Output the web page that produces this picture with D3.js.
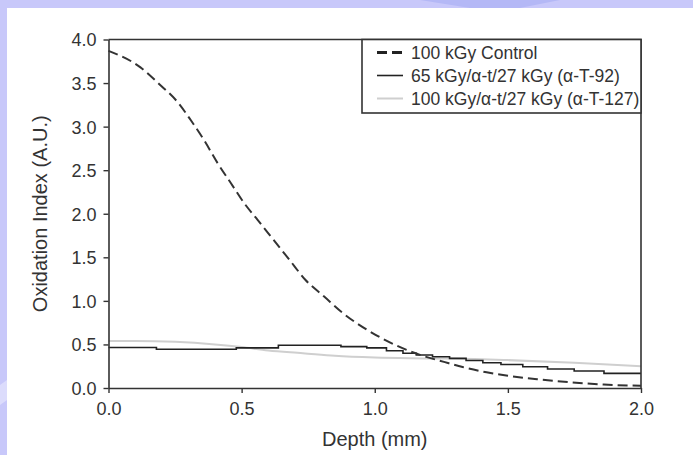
<!DOCTYPE html>
<html>
<head>
<meta charset="utf-8">
<script src="https://cdn.jsdelivr.net/npm/d3@7"></script>
<style>
  html, body { margin: 0; padding: 0; background: #c8c8fa; }
  svg { display: block; }
  text { font-family: "Liberation Sans", Arial, sans-serif; fill: #333; }
</style>
</head>
<body>
<svg id="chart" width="693" height="455"></svg>
<script>
// Oxidation index vs depth
const controlDepth = [0, 0.12, 0.19, 0.26, 0.31, 0.36, 0.41, 0.46, 0.51, 0.56, 0.62, 0.68, 0.74, 0.81, 0.88, 0.97, 1.08, 1.17, 1.26, 1.33, 1.42, 1.5, 1.61, 1.74, 1.86, 2.0];
const controlOI = [3.87, 3.68, 3.49, 3.28, 3.07, 2.84, 2.58, 2.35, 2.12, 1.93, 1.70, 1.47, 1.24, 1.05, 0.86, 0.67, 0.49, 0.38, 0.30, 0.24, 0.18, 0.14, 0.1, 0.065, 0.04, 0.025];

const t92Depth = [0, 0.18, 0.48, 0.638, 0.873, 0.97, 1.044, 1.106, 1.156, 1.217, 1.281, 1.343, 1.406, 1.474, 1.556, 1.649, 1.749, 1.861, 2.0];
const t92OI = [0.465, 0.445, 0.46, 0.49, 0.475, 0.46, 0.428, 0.398, 0.378, 0.359, 0.34, 0.315, 0.29, 0.27, 0.244, 0.218, 0.195, 0.168, 0.168];

const t127Depth = [0, 0.1, 0.25, 0.4, 0.5, 0.6, 0.73, 0.85, 1.0, 1.2, 1.4, 1.5, 1.75, 2.0];
const t127OI = [0.54, 0.54, 0.53, 0.5, 0.47, 0.43, 0.4, 0.37, 0.35, 0.34, 0.33, 0.32, 0.29, 0.25];

const xTicks = [0, 0.5, 1.0, 1.5, 2.0];
const yTicks = [0, 0.5, 1.0, 1.5, 2.0, 2.5, 3.0, 3.5, 4.0];

const legendLabels = ["100 kGy Control", "65 kGy/\u03b1-t/27 kGy (\u03b1-T-92)", "100 kGy/\u03b1-t/27 kGy (\u03b1-T-127)"];

const svg = d3.select("#chart");

// slide background streaks + white panel
svg.append("polygon").attr("points", "420,0 560,0 520,8 470,8").attr("fill", "#b4b8f6");
svg.append("polygon").attr("points", "0,385 7,380 7,400 0,405").attr("fill", "#dcdcfc");
svg.append("rect").attr("x", 7).attr("y", 8).attr("width", 686).attr("height", 447).attr("fill", "#fff");

const x = d3.scaleLinear().domain([0, 2]).range([108.5, 641]);
const y = d3.scaleLinear().domain([0, 4]).range([388, 39.5]);

// series
const ctrl = controlDepth.map((d, i) => [d, controlOI[i]]);
const t92 = t92Depth.map((d, i) => [d, t92OI[i]]);
const t127 = t127Depth.map((d, i) => [d, t127OI[i]]);

const smooth = d3.line().x(d => x(d[0])).y(d => y(d[1])).curve(d3.curveMonotoneX);
const step = d3.line().x(d => x(d[0])).y(d => y(d[1])).curve(d3.curveStepAfter);

svg.append("path").attr("d", smooth(t127))
    .attr("fill", "none").attr("stroke", "#cfcfcf").attr("stroke-width", 2);
svg.append("path").attr("d", step(t92))
    .attr("fill", "none").attr("stroke", "#222").attr("stroke-width", 1.6);
svg.append("path").attr("d", smooth(ctrl))
    .attr("fill", "none").attr("stroke", "#333").attr("stroke-width", 2)
    .attr("stroke-dasharray", "10,5");

// axes
const xAxis = svg.append("g").attr("transform", `translate(0,${y(0)})`)
    .call(d3.axisBottom(x).tickValues(xTicks).tickFormat(d3.format(".1f")).tickSize(5).tickSizeOuter(0));
const yAxis = svg.append("g").attr("transform", `translate(${x(0)},0)`)
    .call(d3.axisLeft(y).tickValues(yTicks).tickFormat(d3.format(".1f")).tickSize(5).tickSizeOuter(0));

[xAxis, yAxis].forEach(a => {
    a.select(".domain").attr("stroke", "#333").attr("stroke-width", 1.6);
    a.selectAll(".tick line").attr("stroke", "#333").attr("stroke-width", 1.4);
    a.selectAll(".tick text").style("font-size", "18px").attr("fill", "#333")
        .style("font-family", "'Liberation Sans', Arial, sans-serif");
});
xAxis.selectAll(".tick text").attr("dy", 0).attr("y", 27);
yAxis.selectAll(".tick text").attr("x", -12).attr("dy", "0.36em");

// frame top/right
svg.append("path")
    .attr("d", `M${x(0)},${y(4)}H${x(2)}V${y(0)}`)
    .attr("fill", "none").attr("stroke", "#333").attr("stroke-width", 1.6);

// axis titles
svg.append("text").attr("x", (x(0) + x(2)) / 2).attr("y", 446)
    .attr("text-anchor", "middle").style("font-size", "20px").text("Depth (mm)");
svg.append("text").attr("transform", `translate(47,${(y(0) + y(4)) / 2}) rotate(-90)`)
    .attr("text-anchor", "middle").style("font-size", "20px").text("Oxidation Index (A.U.)");

// legend
const lg = svg.append("g");
lg.append("rect").attr("x", 362).attr("y", y(4)).attr("width", x(2) - 362).attr("height", 113 - y(4))
    .attr("fill", "#fff").attr("stroke", "#333").attr("stroke-width", 1.6);
const legendStyles = [
    { stroke: "#222", width: 3, dash: "10,5" },
    { stroke: "#222", width: 1.6, dash: null },
    { stroke: "#cfcfcf", width: 2, dash: null }
];
legendLabels.forEach((label, i) => {
    const ry = 52.5 + i * 23;
    const s = legendStyles[i];
    lg.append("line").attr("x1", 377).attr("x2", 403).attr("y1", ry).attr("y2", ry)
        .attr("stroke", s.stroke).attr("stroke-width", s.width)
        .attr("stroke-dasharray", s.dash);
    lg.append("text").attr("x", 411).attr("y", ry).attr("dy", "0.36em")
        .style("font-size", "17.5px").text(label);
});
</script>
</body>
</html>
